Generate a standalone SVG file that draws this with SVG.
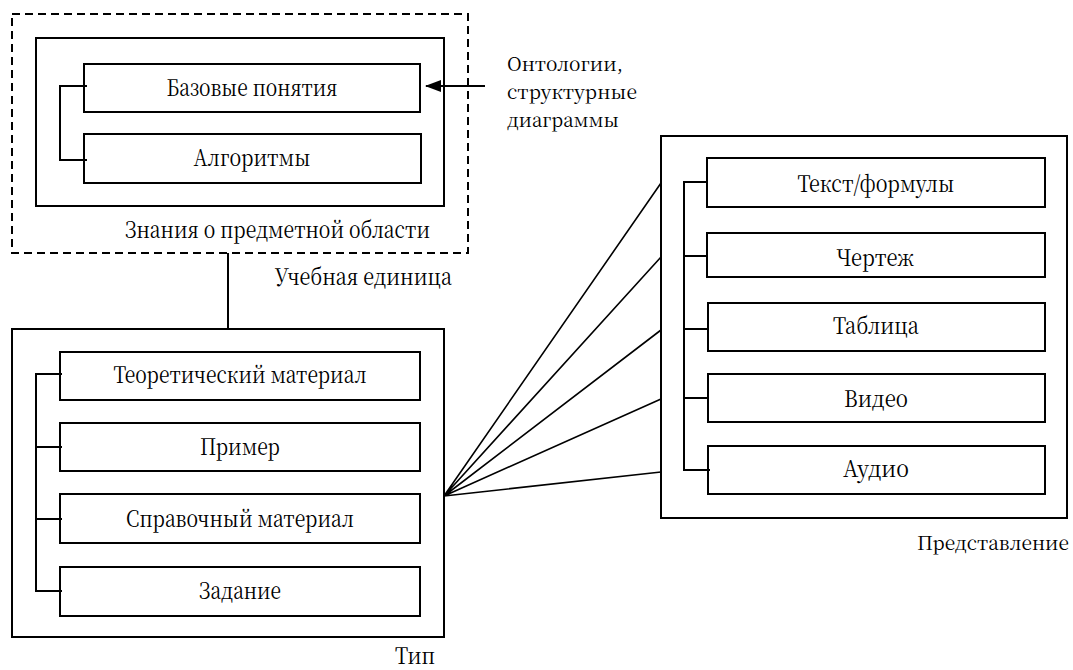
<svg xmlns="http://www.w3.org/2000/svg" width="1073" height="670" viewBox="0 0 1073 670">
<style>
.b{fill:none;stroke:#000;stroke-width:2}
.c{fill:none;stroke:#000;stroke-width:1.6}
.t{font-family:'Noto Serif CJK SC','DejaVu Serif',serif;font-size:23px;fill:#000}
.s{font-size:19px}
.m{text-anchor:middle}
</style>
<defs>
<marker id="ah" markerWidth="16" markerHeight="12" refX="15" refY="6" orient="auto" markerUnits="userSpaceOnUse">
<path d="M0,0 L16,6 L0,12 z" fill="#000"/>
</marker>
</defs>
<rect width="1073" height="670" fill="#fff"/>
<g id="unit">
<rect x="12" y="14" width="456" height="239" fill="none" stroke="#000" stroke-width="2" stroke-dasharray="8,5"/>
<text class="t" x="275" y="285" textLength="177" lengthAdjust="spacingAndGlyphs">Учебная единица</text>
</g>
<g id="domain">
<rect class="b" x="36" y="38" width="408" height="168"/>
<text class="t" x="125" y="238" textLength="305" lengthAdjust="spacingAndGlyphs">Знания о предметной области</text>
</g>
<g id="basic"><rect class="b" x="84" y="64" width="336" height="48"/><text class="t m" x="252" y="96" textLength="171" lengthAdjust="spacingAndGlyphs">Базовые понятия</text></g>
<g id="algo"><rect class="b" x="84" y="134" width="337" height="49"/><text class="t m" x="252" y="166" textLength="117" lengthAdjust="spacingAndGlyphs">Алгоритмы</text></g>
<g id="ontology"><text class="t s" x="507" y="71"><tspan x="507" y="71" textLength="116" lengthAdjust="spacingAndGlyphs">Онтологии,</tspan><tspan x="507" y="99" textLength="130" lengthAdjust="spacingAndGlyphs">структурные</tspan><tspan x="507" y="127" textLength="112" lengthAdjust="spacingAndGlyphs">диаграммы</tspan></text></g>
<g id="type">
<rect class="b" x="12" y="329" width="432" height="308"/>
<text class="t" x="395" y="664" textLength="40" lengthAdjust="spacingAndGlyphs">Тип</text>
</g>
<g id="theory"><rect class="b" x="60" y="352" width="360" height="48"/><text class="t m" x="240" y="383" textLength="253" lengthAdjust="spacingAndGlyphs">Теоретический материал</text></g>
<g id="example"><rect class="b" x="60" y="423" width="360" height="48"/><text class="t m" x="240" y="455" textLength="80" lengthAdjust="spacingAndGlyphs">Пример</text></g>
<g id="reference"><rect class="b" x="60" y="494" width="360" height="49"/><text class="t m" x="240" y="527" textLength="228" lengthAdjust="spacingAndGlyphs">Справочный материал</text></g>
<g id="task"><rect class="b" x="60" y="567" width="360" height="49"/><text class="t m" x="240" y="599" textLength="82" lengthAdjust="spacingAndGlyphs">Задание</text></g>
<g id="repr">
<rect class="b" x="661" y="136" width="406" height="382"/>
<text class="t s" x="917" y="550" textLength="152" lengthAdjust="spacingAndGlyphs">Представление</text>
</g>
<g id="textf"><rect class="b" x="707" y="158" width="338" height="49"/><text class="t m" x="876" y="192" textLength="157" lengthAdjust="spacingAndGlyphs">Текст/формулы</text></g>
<g id="drawing"><rect class="b" x="707" y="233" width="338" height="44"/><text class="t m" x="875" y="266" textLength="78" lengthAdjust="spacingAndGlyphs">Чертеж</text></g>
<g id="table"><rect class="b" x="708" y="303" width="337" height="48"/><text class="t m" x="876" y="334" textLength="86" lengthAdjust="spacingAndGlyphs">Таблица</text></g>
<g id="video"><rect class="b" x="708" y="374" width="337" height="48"/><text class="t m" x="876" y="407" textLength="64" lengthAdjust="spacingAndGlyphs">Видео</text></g>
<g id="audio"><rect class="b" x="708" y="446" width="337" height="48"/><text class="t m" x="876" y="477" textLength="66" lengthAdjust="spacingAndGlyphs">Аудио</text></g>
<g id="connectors">
<path class="b" d="M87,86 H60 V160 H87"/>
<path class="b" d="M485,86 H426" marker-end="url(#ah)"/>
<path class="b" d="M228,253 V329"/>
<path class="b" d="M62,374 H36 V591 H62 M36,447 H62 M36,519 H62"/>
<path class="b" d="M708,182 H684 V470 H710 M684,256 H708 M684,329 H708 M684,398 H708"/>
<path class="c" d="M444,496 L661,183 M444,496 L661,257 M444,496 L661,330 M444,496 L661,399 M444,496 L661,472"/>
</g>
</svg>
